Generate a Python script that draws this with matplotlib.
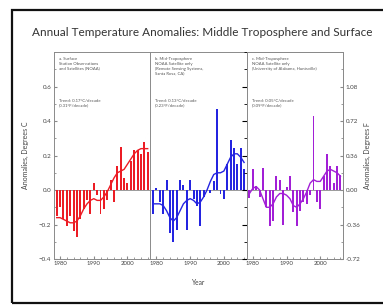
import matplotlib
matplotlib.use("Agg")
import matplotlib.pyplot as plt
from matplotlib.patches import Rectangle
from matplotlib.ticker import MultipleLocator

plt.rcParams['font.family'] = ['Lato', 'DejaVu Sans']

years = list(range(1979, 2007))

# a. Surface (NOAA), degrees C
surface = [-0.15, -0.10, -0.17, -0.21, -0.15, -0.24, -0.27, -0.17, -0.11, -0.06,
           -0.14, 0.04, -0.03, -0.14, -0.11, -0.06, 0.06, -0.07, 0.14, 0.25,
           0.07, 0.04, 0.17, 0.23, 0.23, 0.21, 0.28, 0.22]
surface_smooth = [-0.16, -0.16, -0.17, -0.18, -0.19, -0.19, -0.18, -0.15, -0.11, -0.08,
                  -0.06, -0.05, -0.06, -0.06, -0.04, -0.01, 0.03, 0.07, 0.10, 0.11,
                  0.12, 0.15, 0.18, 0.21, 0.23, 0.24, 0.24, 0.24]

# b. Mid-troposphere (RSS)
rss = [-0.14, 0.01, -0.07, -0.14, 0.06, -0.25, -0.30, -0.23, 0.06, 0.03,
       -0.23, 0.06, -0.05, -0.09, -0.21, -0.04, 0.00, -0.02, 0.05, 0.47,
       -0.025, -0.05, 0.15, 0.29, 0.245, 0.15, 0.245, 0.12]
rss_smooth = [-0.08, -0.08, -0.08, -0.09, -0.12, -0.16, -0.18, -0.16, -0.12, -0.08,
              -0.06, -0.05, -0.06, -0.08, -0.07, -0.04, 0.00, 0.05, 0.09, 0.10,
              0.10, 0.11, 0.15, 0.19, 0.21, 0.21, 0.19, 0.16]

# c. Mid-troposphere (UAH)
uah = [-0.045, 0.12, 0.025, -0.04, 0.13, -0.10, -0.21, -0.18, 0.08, 0.06,
       -0.20, 0.015, 0.08, -0.13, -0.21, -0.12, -0.07, -0.08, -0.03, 0.43,
       -0.07, -0.11, 0.08, 0.21, 0.14, 0.04, 0.14, 0.09]
uah_smooth = [-0.02, 0.01, 0.02, 0.00, -0.05, -0.10, -0.10, -0.08, -0.04, -0.02,
              -0.02, -0.03, -0.05, -0.09, -0.10, -0.08, -0.05, -0.01, 0.04, 0.06,
              0.05, 0.05, 0.08, 0.11, 0.12, 0.11, 0.10, 0.08]

panel_titles = ["a. Surface\nStation Observations\nand Satellites (NOAA)",
                "b. Mid-Troposphere\nNOAA Satellite only\n(Remote Sensing Systems,\nSanta Rosa, CA)",
                "c. Mid-Troposphere\nNOAA Satellite only\n(University of Alabama, Huntsville)"]
trend_texts = ["Trend: 0.17\u00b0C/decade\n(0.31\u00b0F/decade)",
               "Trend: 0.13\u00b0C/decade\n(0.23\u00b0F/decade)",
               "Trend: 0.05\u00b0C/decade\n(0.09\u00b0F/decade)"]
colors = ["#ec1c24", "#2424e0", "#a21fd6"]

series = [surface, rss, uah]
smooths = [surface_smooth, rss_smooth, uah_smooth]

fig = plt.figure(figsize=(3.83, 3.08), dpi=100)
axes = fig.subplots(1, 3, sharey=True, gridspec_kw=dict(wspace=0))
fig.subplots_adjust(left=0.141, right=0.896, bottom=0.159, top=0.831)

grey = "#8a8a8a"
for i, ax in enumerate(axes):
    ax.axhline(0, color=grey, lw=0.6, zorder=1)
    ax.bar(years, series[i], width=0.58, color=colors[i], linewidth=0, zorder=2)
    ax.plot(years, smooths[i], color=colors[i], lw=1.0, zorder=3)
    ax.set_xlim(1978.2, 2006.8)
    ax.set_ylim(-0.4, 0.8)
    ax.xaxis.set_major_locator(MultipleLocator(10))
    ax.xaxis.set_minor_locator(MultipleLocator(2))
    for s in ax.spines.values():
        s.set_color(grey)
        s.set_linewidth(0.7)
    ax.tick_params(axis='x', which='both', direction='in', colors=grey,
                   labelcolor='#444444', labelsize=4.3, pad=1.5)
    ax.tick_params(axis='x', which='major', length=2.5)
    ax.tick_params(axis='x', which='minor', length=1.5)
    ax.text(0.05, 0.975, panel_titles[i], transform=ax.transAxes, va='top', ha='left',
            fontsize=3.1, color='#555555', linespacing=1.25)
    ax.text(0.05, 0.775, trend_texts[i], transform=ax.transAxes, va='top', ha='left',
            fontsize=3.1, color='#555555', linespacing=1.25)
    if i > 0:
        ax.tick_params(axis='y', which='both', left=False)

axes[0].yaxis.set_minor_locator(MultipleLocator(0.1))
axes[0].set_yticks([-0.4, -0.2, 0.0, 0.2, 0.4, 0.6])
axes[0].tick_params(axis='y', which='both', direction='in', colors=grey,
                    labelcolor='#444444', labelsize=4.5, pad=2)
axes[0].tick_params(axis='y', which='major', length=2.5)
axes[0].tick_params(axis='y', which='minor', length=1.5)
axes[0].set_ylabel("Anomalies, Degrees C", fontsize=5, color='#444444', labelpad=7)

axr = axes[2].twinx()
axr.set_ylim(-0.72, 1.44)
axr.set_yticks([-0.72, -0.36, 0.0, 0.36, 0.72, 1.08])
axr.set_yticklabels(["-0.72", "-0.36", "0.00", "0.36", "0.72", "1.08"])
axr.yaxis.set_minor_locator(MultipleLocator(0.18))
axr.tick_params(axis='y', which='both', direction='in', colors=grey,
                labelcolor='#444444', labelsize=4.5, pad=2)
axr.tick_params(axis='y', which='major', length=2.5)
axr.tick_params(axis='y', which='minor', length=1.5)
axr.set_ylabel("Anomalies, Degrees F", fontsize=5, color='#444444', labelpad=2,
               rotation=90)
for s in axr.spines.values():
    s.set_color(grey)
    s.set_linewidth(0.7)

axes[1].set_xlabel("Year", fontsize=4.8, color='#444444', labelpad=9)

fig.text(0.527, 0.895, "Annual Temperature Anomalies: Middle Troposphere and Surface",
         ha='center', va='center', fontsize=8.5, color='#333333')

frame = Rectangle((12 / 383, 5 / 308), 1.2, 1 - 15 / 308, transform=fig.transFigure,
                  fill=False, edgecolor='#111111', linewidth=1.6)
fig.patches.append(frame)

fig.savefig("out.png", dpi=100)
